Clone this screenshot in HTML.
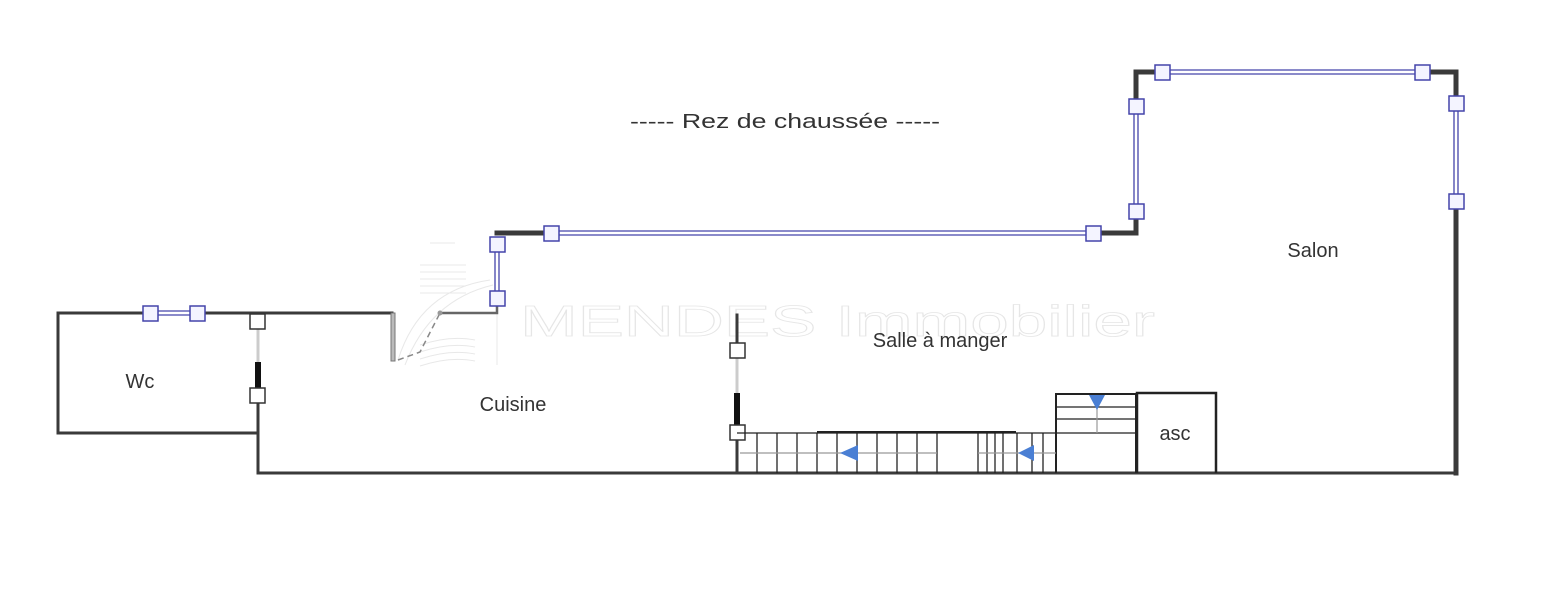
<!DOCTYPE html>
<html><head><meta charset="utf-8"><style>
html,body{margin:0;padding:0;background:#fff;}
svg{display:block;}
text{font-family:"Liberation Sans",sans-serif;fill:#333;}
</style></head><body>
<svg width="1562" height="598" viewBox="0 0 1562 598" xmlns="http://www.w3.org/2000/svg">
<!-- watermark -->
<text x="520" y="336" font-size="44" textLength="635" lengthAdjust="spacingAndGlyphs" style="fill:#fff;stroke:#e6e6e6;stroke-width:0.8">MENDES Immobilier</text>
<g stroke="#e8e8e8" fill="none" stroke-width="1">
<line x1="420" y1="265" x2="466" y2="265"/><line x1="420" y1="272" x2="466" y2="272"/><line x1="420" y1="279" x2="466" y2="279"/><line x1="420" y1="286" x2="466" y2="286"/><line x1="420" y1="293" x2="466" y2="293"/>
<line x1="430" y1="243" x2="455" y2="243"/>
<path d="M398 360 Q420 290 490 280"/><path d="M405 365 Q430 300 493 285"/>
<path d="M420 345 Q450 335 475 340"/><path d="M420 352 Q450 342 475 347"/><path d="M420 359 Q450 349 475 354"/><path d="M420 366 Q450 356 475 361"/>
<line x1="497" y1="310" x2="497" y2="365"/>
</g>
<!-- walls -->
<g stroke="#3a3a3a" fill="none" stroke-linecap="square">
<path d="M392 313 H58 V433 H258" stroke-width="3"/>
<path d="M258 433 V473 H1456 V72 H1136 V233 H497" stroke-width="3"/>
<path d="M1136 72 V233 H1093" stroke-width="5"/>
<path d="M1136 72 H1456 V473" stroke-width="5"/>
<path d="M497 233 H551" stroke-width="5"/>
<path d="M497 240 V313 H440" stroke-width="2.5" stroke="#666"/>
<line x1="258" y1="395" x2="258" y2="473" stroke-width="3"/>
<line x1="737" y1="315" x2="737" y2="345" stroke-width="3"/>
<line x1="737" y1="438" x2="737" y2="473" stroke-width="3"/>
</g>
<!-- door frame kitchen -->
<rect x="391" y="313" width="4" height="48" fill="#bbb" stroke="#777" stroke-width="1"/>
<path d="M398 360 L420 352 L440 313" stroke="#888" stroke-width="1.5" stroke-dasharray="6,4" fill="none"/>
<circle cx="440" cy="313" r="2.5" fill="#999"/>
<!-- doors -->
<line x1="258" y1="328" x2="258" y2="363" stroke="#ccc" stroke-width="3"/>
<line x1="258" y1="362" x2="258" y2="390" stroke="#111" stroke-width="6"/>
<line x1="737" y1="357" x2="737" y2="395" stroke="#ccc" stroke-width="3"/>
<line x1="737" y1="393" x2="737" y2="428" stroke="#111" stroke-width="6"/>
<g fill="#fff" stroke="#333" stroke-width="1.5">
<rect x="250" y="314" width="15" height="15"/><rect x="250" y="388" width="15" height="15"/>
<rect x="730" y="343" width="15" height="15"/><rect x="730" y="425" width="15" height="15"/>
</g>
<!-- windows: white band -->
<g stroke="#fff" stroke-width="3.4" fill="none">
<path d="M150 313 H197"/>
<path d="M551 233 H1093"/>
<path d="M497 244 V298"/>
<path d="M1136 106 V211"/>
<path d="M1162 72 H1422"/>
<path d="M1456 103 V201"/>
</g>
<g stroke="#4444aa" stroke-width="1.3" fill="none">
<path d="M150 311 H197 M150 315 H197"/>
<path d="M551 231 H1093 M551 235 H1093"/>
<path d="M495 244 V298 M499 244 V298"/>
<path d="M1134 106 V211 M1138 106 V211"/>
<path d="M1162 70 H1422 M1162 74 H1422"/>
<path d="M1454 103 V201 M1458 103 V201"/>
</g>
<g fill="#f4f4ff" stroke="#4444aa" stroke-width="1.5">
<rect x="143" y="306" width="15" height="15"/><rect x="190" y="306" width="15" height="15"/>
<rect x="544" y="226" width="15" height="15"/><rect x="1086" y="226" width="15" height="15"/>
<rect x="490" y="237" width="15" height="15"/><rect x="490" y="291" width="15" height="15"/>
<rect x="1129" y="99" width="15" height="15"/><rect x="1129" y="204" width="15" height="15"/>
<rect x="1155" y="65" width="15" height="15"/><rect x="1415" y="65" width="15" height="15"/>
<rect x="1449" y="96" width="15" height="15"/><rect x="1449" y="194" width="15" height="15"/>
</g>
<!-- stairs -->
<g stroke="#222" stroke-width="1.3" fill="none">
<line x1="737" y1="433" x2="1056" y2="433"/>
<line x1="817" y1="432" x2="1016" y2="432" stroke-width="2"/>
<line x1="757" y1="433" x2="757" y2="473"/><line x1="777" y1="433" x2="777" y2="473"/><line x1="797" y1="433" x2="797" y2="473"/><line x1="817" y1="433" x2="817" y2="473"/><line x1="837" y1="433" x2="837" y2="473"/><line x1="857" y1="433" x2="857" y2="473"/><line x1="877" y1="433" x2="877" y2="473"/><line x1="897" y1="433" x2="897" y2="473"/><line x1="917" y1="433" x2="917" y2="473"/><line x1="937" y1="433" x2="937" y2="473"/>
<line x1="978" y1="433" x2="978" y2="473"/><line x1="987" y1="433" x2="987" y2="473"/><line x1="995" y1="433" x2="995" y2="473"/><line x1="1003" y1="433" x2="1003" y2="473"/><line x1="1017" y1="433" x2="1017" y2="473"/><line x1="1032" y1="433" x2="1032" y2="473"/><line x1="1043" y1="433" x2="1043" y2="473"/>
<path d="M1056 473 V394 H1136 V473" stroke-width="2"/>
<line x1="1056" y1="407" x2="1136" y2="407"/><line x1="1056" y1="419" x2="1136" y2="419"/><line x1="1056" y1="433" x2="1136" y2="433"/>
<path d="M1137 473 V393 H1216 V473" stroke-width="2.5"/>
</g>
<g stroke="#999" stroke-width="1.2">
<line x1="740" y1="453" x2="937" y2="453"/><line x1="978" y1="453" x2="1056" y2="453"/>
<line x1="1097" y1="400" x2="1097" y2="433"/>
</g>
<g fill="#4a7fd4">
<polygon points="840,453 858,445 858,461"/>
<polygon points="1018,453 1034,445 1034,461"/>
<polygon points="1089,395 1105,395 1097,410"/>
</g>
<!-- labels -->
<text x="630" y="128" font-size="20" textLength="310" lengthAdjust="spacingAndGlyphs">-----  Rez de chaussée  -----</text>
<text x="1313" y="257" font-size="20" text-anchor="middle">Salon</text>
<text x="940" y="347" font-size="20" text-anchor="middle">Salle à manger</text>
<text x="513" y="411" font-size="20" text-anchor="middle">Cuisine</text>
<text x="140" y="388" font-size="20" text-anchor="middle">Wc</text>
<text x="1175" y="440" font-size="20" text-anchor="middle">asc</text>
</svg>
</body></html>
